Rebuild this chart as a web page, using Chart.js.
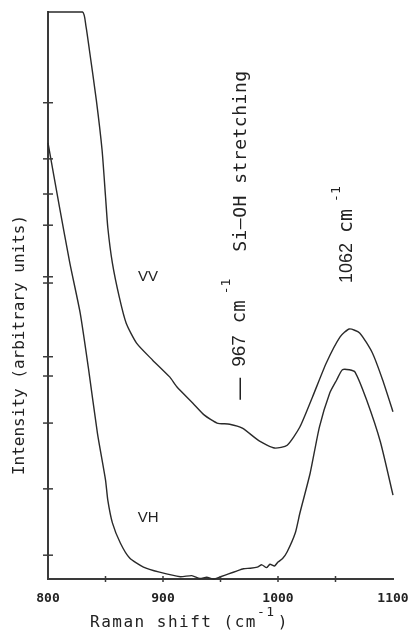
<!DOCTYPE html>
<html>
<head>
<meta charset="utf-8">
<script src="https://cdn.jsdelivr.net/npm/chart.js@4/dist/chart.umd.min.js"></script>
<style>
  html, body { margin: 0; padding: 0; background: #fff; }
  #wrap { width: 416px; height: 635px; }
</style>
</head>
<body>
<div id="wrap"><canvas id="chart"></canvas></div>
<script>
// Raman shift (cm-1) and intensity (arbitrary units, 0..100 = plot height)
const vvShift = [800, 830, 833, 836, 842, 847, 850, 852, 856, 862, 868, 877, 891, 906, 912, 926, 936, 947, 958, 969, 984, 997, 1008, 1019, 1030, 1042, 1054, 1062, 1071, 1082, 1091, 1100];
const vvIntensity = [100, 100, 97.5, 93.3, 84.5, 75.7, 67.5, 62.0, 55.7, 49.7, 45.1, 41.6, 38.6, 35.6, 33.9, 31.0, 28.9, 27.5, 27.3, 26.6, 24.3, 23.1, 23.6, 26.8, 32.1, 38.1, 42.7, 44.1, 43.4, 39.9, 35.1, 29.5];

const vhShift = [800, 810, 819, 828, 835, 843, 850, 852, 856, 863, 871, 883, 897, 915, 925, 932, 938, 944, 950, 957, 964, 970, 976, 982, 986, 990, 993, 997, 1000, 1004, 1008, 1015, 1019, 1028, 1036, 1045, 1051, 1056, 1062, 1067, 1077, 1089, 1100];
const vhIntensity = [76.9, 65.6, 55.7, 46.9, 37.4, 25.7, 17.5, 13.9, 9.9, 6.3, 3.7, 2.1, 1.2, 0.4, 0.6, 0.1, 0.3, 0.0, 0.4, 0.9, 1.4, 1.8, 1.9, 2.1, 2.5, 2.0, 2.6, 2.3, 3.0, 3.6, 4.8, 8.1, 11.6, 18.7, 26.8, 32.8, 35.1, 36.9, 36.9, 36.5, 31.6, 24.2, 14.8];

const xTickLabels = [800, 900, 1000, 1100];
const yTickValues = [84, 74.1, 67.9, 62.4, 53.3, 52.2, 39.2, 35.8, 27.5, 15.9, 4.2];

const LINE = '#2a2a2a';
const AXIS = '#3a3a3a';

function pts(xs, ys) {
  return xs.map((x, i) => ({ x: x, y: ys[i] }));
}

// draws a run of text rotated -90deg, reading upward from (x, y)
function rotText(ctx, x, y, parts) {
  ctx.save();
  ctx.translate(x, y);
  ctx.rotate(-Math.PI / 2);
  ctx.textBaseline = 'middle';
  ctx.textAlign = 'left';
  let pos = 0;
  for (const p of parts) {
    ctx.font = p.font;
    ctx.letterSpacing = p.spacing || '0px';
    ctx.fillText(p.text, pos, p.shift || 0);
    pos += ctx.measureText(p.text).width + (p.gap || 0);
  }
  ctx.restore();
}

const decor = {
  id: 'decor',
  afterDraw(chart) {
    const ctx = chart.ctx;
    const xs = chart.scales.x;
    const ys = chart.scales.y;
    const area = chart.chartArea;
    ctx.save();
    ctx.strokeStyle = AXIS;
    ctx.lineWidth = 1.5;
    // ticks crossing the axes
    for (let v = 850; v <= 1050; v += 50) {
      const px = xs.getPixelForValue(v);
      ctx.beginPath();
      ctx.moveTo(px, area.bottom - 3);
      ctx.lineTo(px, area.bottom + 3);
      ctx.stroke();
    }
    for (const v of yTickValues) {
      const py = ys.getPixelForValue(v);
      ctx.beginPath();
      ctx.moveTo(area.left - 5, py);
      ctx.lineTo(area.left + 5, py);
      ctx.stroke();
    }
    ctx.fillStyle = '#222';
    const mono = '"DejaVu Sans Mono", monospace';
    const sans = '"Liberation Sans", Arial, sans-serif';

    // axis titles
    ctx.save();
    ctx.translate(20, 345);
    ctx.rotate(-Math.PI / 2);
    ctx.textAlign = 'center';
    ctx.textBaseline = 'middle';
    ctx.font = '16px ' + mono;
    ctx.fillText('Intensity (arbitrary units)', 0, 0);
    ctx.restore();

    ctx.textBaseline = 'alphabetic';
    ctx.textAlign = 'left';
    ctx.font = '16px ' + mono;
    ctx.letterSpacing = '1.5px';
    let tx = 90;
    const ty = area.bottom + 48;
    ctx.fillText('Raman shift (cm', tx, ty);
    tx += ctx.measureText('Raman shift (cm').width;
    ctx.font = '13px ' + mono;
    ctx.fillText('-1', tx, ty - 11);
    tx += ctx.measureText('-1').width + 2;
    ctx.font = '16px ' + mono;
    ctx.fillText(')', tx, ty);
    ctx.letterSpacing = '0px';

    // curve labels
    ctx.textAlign = 'center';
    ctx.textBaseline = 'middle';
    ctx.font = '15px ' + sans;
    ctx.fillText('VV', xs.getPixelForValue(887), ys.getPixelForValue(53.3));
    ctx.fillText('VH', xs.getPixelForValue(887), ys.getPixelForValue(10.8));

    // band annotations
    rotText(ctx, xs.getPixelForValue(968), ys.getPixelForValue(57.7), [
      { text: 'Si\u2013OH stretching', font: '18px ' + mono, spacing: '0.5px' }
    ]);
    rotText(ctx, xs.getPixelForValue(967), ys.getPixelForValue(31.6), [
      { text: '\u2014', font: '22px ' + sans, gap: 11 },
      { text: '967', font: '19px ' + sans, gap: 12 },
      { text: 'cm', font: '19px ' + mono, gap: 6 },
      { text: '-1', font: '13px ' + mono, shift: -13 }
    ]);
    rotText(ctx, xs.getPixelForValue(1060), ys.getPixelForValue(52.2), [
      { text: '1062', font: '18px ' + sans, gap: 10 },
      { text: 'cm', font: '20px ' + mono, gap: 7 },
      { text: '-1', font: '13px ' + mono, shift: -10 }
    ]);
    ctx.restore();
  }
};

const ctx = document.getElementById('chart').getContext('2d');
const chart = new Chart(ctx, {
  type: 'scatter',
  data: {
    datasets: [
      {
        label: 'VV',
        data: pts(vvShift, vvIntensity),
        showLine: true,
        borderColor: LINE,
        borderWidth: 1.4,
        pointRadius: 0,
        tension: 0.2,
        clip: 1,
      },
      {
        label: 'VH',
        data: pts(vhShift, vhIntensity),
        showLine: true,
        borderColor: LINE,
        borderWidth: 1.4,
        pointRadius: 0,
        tension: 0.2,
        clip: 1,
      },
    ],
  },
  options: {
    responsive: true,
    maintainAspectRatio: false,
    animation: false,
    layout: { padding: { top: 12, right: 23, left: 0, bottom: 0 } },
    plugins: { legend: { display: false }, tooltip: { enabled: false } },
    scales: {
      x: {
        type: 'linear',
        min: 800,
        max: 1100,
        grid: { display: false, drawTicks: false },
        border: { display: true, color: AXIS, width: 2 },
        ticks: {
          stepSize: 50,
          padding: 12,
          color: '#222',
          font: { family: '"DejaVu Sans Mono", monospace', size: 13, weight: 'bold' },
          maxRotation: 0,
          autoSkip: false,
          callback: (v) => (xTickLabels.includes(v) ? String(v) : ''),
        },
        afterFit: (s) => { s.height = 56; s.paddingLeft = 0; s.paddingRight = 0; },
      },
      y: {
        min: 0,
        max: 100,
        grid: { display: false, drawTicks: false },
        border: { display: true, color: AXIS, width: 2 },
        ticks: { display: false },
        afterBuildTicks: (s) => { s.ticks = yTickValues.map((v) => ({ value: v })); },
        afterFit: (s) => { s.width = 48; },
      },
    },
  },
  plugins: [decor],
});
</script>
</body>
</html>
